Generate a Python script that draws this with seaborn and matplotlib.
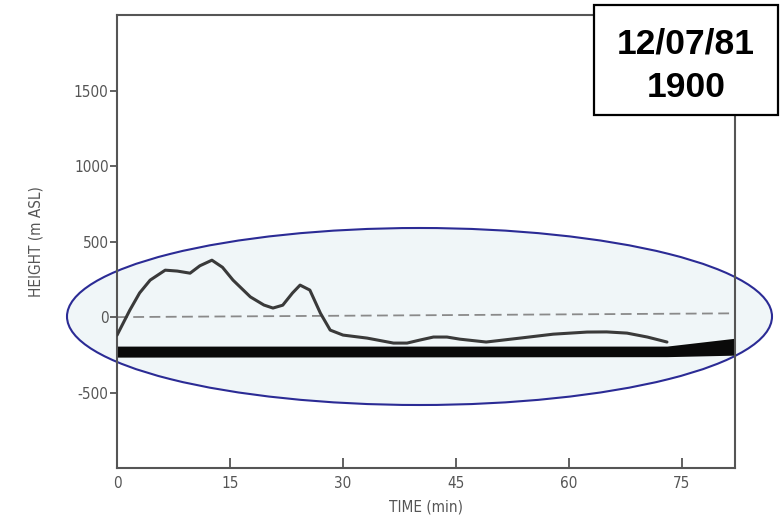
import matplotlib
matplotlib.use("Agg")
import matplotlib.pyplot as plt
import matplotlib.patches as patches
import seaborn as sns
import numpy as np
import pandas as pd

# ---- data ----
time_min = [0, 1.7, 3, 4.4, 6.4, 8, 9.7, 11, 12.6, 14, 15.4, 17.7, 19.5, 20.7, 22,
            23.3, 24.3, 25.6, 27, 28.3, 30, 33.2, 36.7, 38.5, 40.2, 42, 43.8, 45.5,
            49, 53.5, 57.9, 62.4, 65, 67.7, 70.4, 73]
height_m = [-120, 46, 160, 245, 311, 305, 291, 340, 377, 330, 245, 134, 80, 60, 79,
            160, 212, 179, 26, -86, -119, -139, -172, -172, -152, -132, -132, -146,
            -165, -139, -113, -99, -98, -106, -132, -165]

band_t = [0, 73, 82]
band_top = [-192, -192, -140]
band_bottom = [-265, -262, -252]

ref_t = [0, 82]
ref_h = [0, 25]

x_ticks = [0, 15, 30, 45, 60, 75]
x_tick_labels = ["0", "15", "30", "45", "60", "75"]
y_ticks = [-500, 0, 500, 1000, 1500]
y_tick_labels = ["-500", "0", "500", "1000", "1500"]

date_line1 = "12/07/81"
date_line2 = "1900"

df = pd.DataFrame({"t": time_min, "h": height_m})

sns.set_style("white")
plt.rcParams['font.family'] = ['DejaVu Sans']

fig = plt.figure(figsize=(7.8, 5.23), dpi=100)
fig.patch.set_facecolor("white")
ax = fig.add_axes([0.15, 0.105, 0.792, 0.866])
ax.patch.set_alpha(0)

GRAY = "#555555"

# thick black band
ax.fill_between(band_t, band_bottom, band_top, color="#0a0a0a", lw=0, zorder=2)
# dashed reference line
ax.plot(ref_t, ref_h, color="#8a8a8a", lw=1.3, ls=(0, (6, 3)), zorder=1)
# height curve
sns.lineplot(data=df, x="t", y="h", ax=ax, color="#3a3a3a", lw=2.2, zorder=3,
             sort=False)
for ln in ax.lines:
    ln.set_solid_joinstyle("round")

ax.set_xlim(0, 82)
ax.set_ylim(-1000, 2000)
ax.set_xticks(x_ticks)
ax.set_xticklabels(x_tick_labels)
ax.set_yticks(y_ticks)
ax.set_yticklabels(y_tick_labels)

for s in ax.spines.values():
    s.set_color(GRAY)
    s.set_linewidth(1.5)

ax.tick_params(axis="x", bottom=True, direction="in", length=7, width=1.3, color=GRAY,
               labelcolor="#555555", labelsize=11, pad=6)
ax.tick_params(axis="y", left=True, direction="out", length=5, width=1.3, color=GRAY,
               labelcolor="#555555", labelsize=11, pad=1)
for lab in ax.get_xticklabels() + ax.get_yticklabels():
    lab.set_fontstretch("condensed")

ax.set_xlabel("TIME (min)", fontsize=11, color="#555555", labelpad=6,
              fontstretch="condensed")
ax.set_ylabel("HEIGHT (m ASL)", fontsize=11, color="#555555", labelpad=22,
              fontstretch="condensed")

# highlight ellipse (figure pixels -> fraction), drawn beneath the axes content
W, H = 780, 523
ell = patches.Ellipse((419.5 / W, 1 - 316.5 / H), 705 / W, 177 / H,
                      transform=fig.transFigure, facecolor="#f0f6f8",
                      edgecolor="#2b2b95", lw=1.5, zorder=-1)
fig.patches.append(ell)

# date box
box = patches.Rectangle((594 / W, 1 - 115 / H), 184 / W, 110 / H,
                        transform=fig.transFigure, facecolor="white",
                        edgecolor="black", lw=1.6, zorder=6)
fig.patches.append(box)
for txt, base in [(date_line1, 53), (date_line2, 97)]:
    fig.text(686 / W, 1 - base / H, txt, ha="center", va="baseline", color="black",
             fontsize=25.5, fontweight="bold",
             family=["Liberation Sans", "DejaVu Sans"], zorder=7)

fig.savefig("out.png", dpi=100)
